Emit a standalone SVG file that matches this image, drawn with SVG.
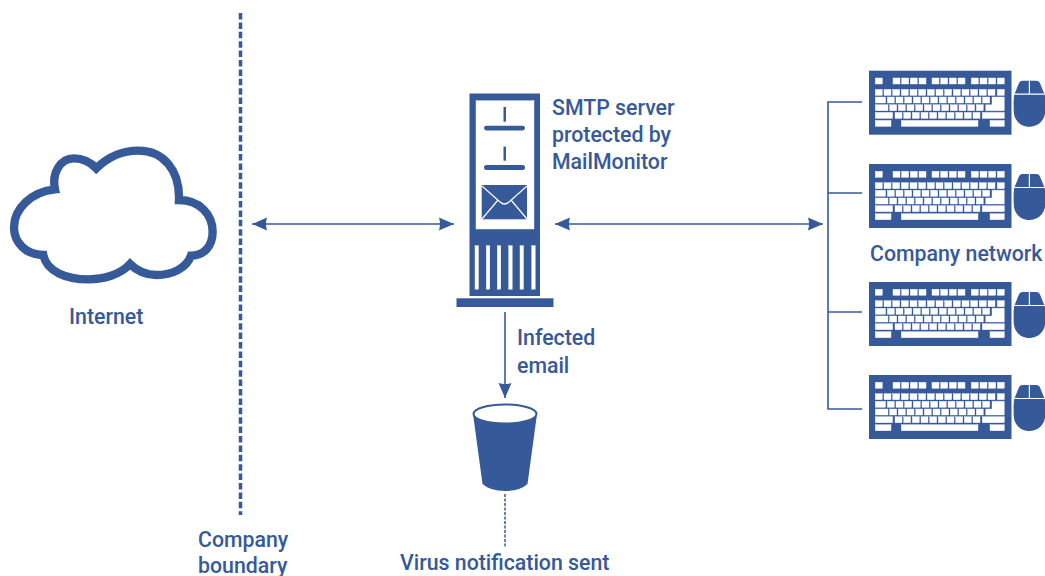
<svg xmlns="http://www.w3.org/2000/svg" width="1045" height="576" viewBox="0 0 1045 576">
<style>
.t{font-family:Roboto,"Liberation Sans",sans-serif;font-size:21.3px;font-weight:500;fill:#36599a}
.f{fill:#36599a}
.k{fill:#fff;stroke:#fff;stroke-width:.4}
.c{fill:none;stroke:#36599a;stroke-width:1.6}
</style>
<defs>
<marker id="a" viewBox="0 0 15 14" refX="15" refY="7" markerWidth="15" markerHeight="14" markerUnits="userSpaceOnUse" orient="auto-start-reverse"><path d="M0 .5L15 7L0 13.500Q2 7 0 .5Z" fill="#36599a"/></marker>
<g id="kb">
<rect class="f" width="142.500" height="64"/>
<g class="k">
<rect x="6.300" y="7.300" width="7" height="6"/><rect x="24" y="7.300" width="7" height="6"/><rect x="32.700" y="7.300" width="7" height="6"/><rect x="41.300" y="7.300" width="7" height="6"/><rect x="50" y="7.300" width="7" height="6"/><rect x="63" y="7.300" width="7" height="6"/><rect x="71.700" y="7.300" width="7" height="6"/><rect x="80.300" y="7.300" width="7" height="6"/><rect x="89" y="7.300" width="7" height="6"/><rect x="102.300" y="7.300" width="7" height="6"/><rect x="111" y="7.300" width="7" height="6"/><rect x="119.700" y="7.300" width="7" height="6"/><rect x="128.300" y="7.300" width="7" height="6"/>
<rect x="6.300" y="18.700" width="7" height="6"/><rect x="15" y="18.700" width="7" height="6"/><rect x="23.700" y="18.700" width="7" height="6"/><rect x="32.300" y="18.700" width="7" height="6"/><rect x="41" y="18.700" width="7" height="6"/><rect x="49.700" y="18.700" width="7" height="6"/><rect x="58.300" y="18.700" width="7" height="6"/><rect x="67" y="18.700" width="7" height="6"/><rect x="75.700" y="18.700" width="7" height="6"/><rect x="84.300" y="18.700" width="7" height="6"/><rect x="93" y="18.700" width="7" height="6"/><rect x="101.700" y="18.700" width="7" height="6"/><rect x="110.300" y="18.700" width="7" height="6"/><rect x="119" y="18.700" width="7" height="6"/><rect x="128.300" y="18.700" width="7" height="6"/>
<rect x="6.300" y="26.300" width="10.300" height="6"/><rect x="18.300" y="26.300" width="7" height="6"/><rect x="27" y="26.300" width="7" height="6"/><rect x="35.700" y="26.300" width="7" height="6"/><rect x="44.300" y="26.300" width="7" height="6"/><rect x="53" y="26.300" width="7" height="6"/><rect x="61.700" y="26.300" width="7" height="6"/><rect x="70.300" y="26.300" width="7" height="6"/><rect x="79" y="26.300" width="7" height="6"/><rect x="87.700" y="26.300" width="7" height="6"/><rect x="96.300" y="26.300" width="7" height="6"/><rect x="105" y="26.300" width="7" height="6"/><rect x="113.700" y="26.300" width="7" height="6"/>
<path d="M123 26.300H135.300V40H116.700V34H123Z"/>
<rect x="6.300" y="34" width="12.700" height="6"/><rect x="20.700" y="34" width="7" height="6"/><rect x="29.300" y="34" width="7" height="6"/><rect x="38" y="34" width="7" height="6"/><rect x="46.700" y="34" width="7" height="6"/><rect x="55.300" y="34" width="7" height="6"/><rect x="64" y="34" width="7" height="6"/><rect x="72.700" y="34" width="7" height="6"/><rect x="81.300" y="34" width="7" height="6"/><rect x="90" y="34" width="7" height="6"/><rect x="98.700" y="34" width="7" height="6"/><rect x="107.300" y="34" width="7" height="6"/>
<rect x="6.300" y="41.700" width="17.300" height="6"/><rect x="26" y="41.700" width="7" height="6"/><rect x="34.700" y="41.700" width="7" height="6"/><rect x="43.300" y="41.700" width="7" height="6"/><rect x="52" y="41.700" width="7" height="6"/><rect x="60.700" y="41.700" width="7" height="6"/><rect x="69.300" y="41.700" width="7" height="6"/><rect x="78" y="41.700" width="7" height="6"/><rect x="86.700" y="41.700" width="7" height="6"/><rect x="95.300" y="41.700" width="7" height="6"/><rect x="104" y="41.700" width="7" height="6"/><rect x="113.300" y="41.700" width="22" height="6"/>
<rect x="6.300" y="49.700" width="15.700" height="6"/><rect x="32.300" y="49.700" width="76.700" height="6"/><rect x="121" y="49.700" width="14.300" height="6"/>
</g>
</g>
<g id="ms">
<path class="f" d="M9 0H22.500Q25.500 0 26.500 3L31 14C32 20 31.500 26 31.500 30C31.500 40 24 46 15.700 46C7.500 46 0 40 0 30C0 26 -.5 20 .5 14L5 3Q6 0 9 0Z"/>
<path d="M.5 13.500H15.700V0M15.700 13.500H31" fill="none" stroke="#fff" stroke-width="1.200"/>
</g>
</defs>
<g id="connectors">
<path d="M240.500 13V515" fill="none" stroke="#36599a" stroke-width="3.500" stroke-dasharray="6.500 2.900"/>
<path class="c" d="M252 224H454" marker-start="url(#a)" marker-end="url(#a)"/>
<path class="c" d="M555 224H823" marker-start="url(#a)" marker-end="url(#a)"/>
<path class="c" d="M505 312V398" marker-end="url(#a)"/>
<path d="M505 494V547" fill="none" stroke="#36599a" stroke-width="1.500" stroke-dasharray="3 1.500"/>
<path class="c" d="M862 102H828V409H862M828 193H862M828 312H862"/>
</g>
<g id="internet">
<path transform="translate(0 140) scale(.3333)" fill="#fff" stroke="#36599a" stroke-width="25" d="M289 85C325 50 370 32 415 32C490 32 540 90 537 180C600 180 638 225 638 275C638 320 610 347 573 347C560 385 515 405 470 405C440 405 410 392 390 372C360 405 310 418 265 418C200 418 140 395 130 345C80 345 42 310 42 262C42 205 95 155 165 148C155 100 180 55 222 55C250 55 270 65 289 85Z"/>
<text class="t" x="69" y="324">Internet</text>
</g>
<g id="boundary-label">
<text class="t" x="198" y="547">Company</text>
<text class="t" x="198" y="573">boundary</text>
</g>
<g id="server">
<rect class="f" x="469.500" y="93.500" width="70.500" height="202.500"/>
<rect class="k" x="476" y="100.700" width="58" height="128.300"/>
<rect class="f" x="503.500" y="107" width="2.500" height="14.700"/>
<rect class="f" x="484" y="125.700" width="41" height="4.800" rx="2.400"/>
<rect class="f" x="503.500" y="146.700" width="2.500" height="14"/>
<rect class="f" x="484" y="165" width="41" height="5" rx="2.500"/>
<rect class="f" x="481.700" y="185" width="45.300" height="34.300"/>
<path d="M482 186L500 202Q504.500 206 509 202L527 186M482 219L498 200M527 219L511 200" fill="none" stroke="#fff" stroke-width="1.200"/>
<g class="k"><rect x="475" y="245.700" width="3.500" height="43.500"/><rect x="486.300" y="245.700" width="3.500" height="43.500"/><rect x="497.300" y="245.700" width="3.500" height="43.500"/><rect x="508.700" y="245.700" width="3.500" height="43.500"/><rect x="520" y="245.700" width="3.500" height="43.500"/><rect x="531.700" y="245.700" width="3.500" height="43.500"/></g>
<rect class="f" x="456.500" y="298.300" width="97" height="8.700"/>
<text class="t" x="552" y="115">SMTP server</text>
<text class="t" x="552" y="142">protected by</text>
<text class="t" x="552" y="169">MailMonitor</text>
</g>
<g id="bin">
<path class="f" d="M473 414L482.500 484Q490 491 505 491Q520 491 527.500 484L537 414Z"/>
<ellipse cx="505" cy="414" rx="31.500" ry="9.500" fill="#fff" stroke="#36599a" stroke-width="2"/>
<text class="t" x="517" y="345">Infected</text>
<text class="t" x="517" y="373">email</text>
<text class="t" x="400" y="570">Virus notification sent</text>
</g>
<g id="pc1"><use href="#kb" x="869" y="70.700"/><use href="#ms" x="1013.700" y="80.700"/></g>
<g id="pc2"><use href="#kb" x="869" y="164"/><use href="#ms" x="1013.700" y="174"/></g>
<g id="pc3"><use href="#kb" x="869" y="282"/><use href="#ms" x="1013.700" y="292"/></g>
<g id="pc4"><use href="#kb" x="869" y="375"/><use href="#ms" x="1013.700" y="385"/></g>
<text id="network-label" class="t" x="870" y="261">Company network</text>
</svg>
